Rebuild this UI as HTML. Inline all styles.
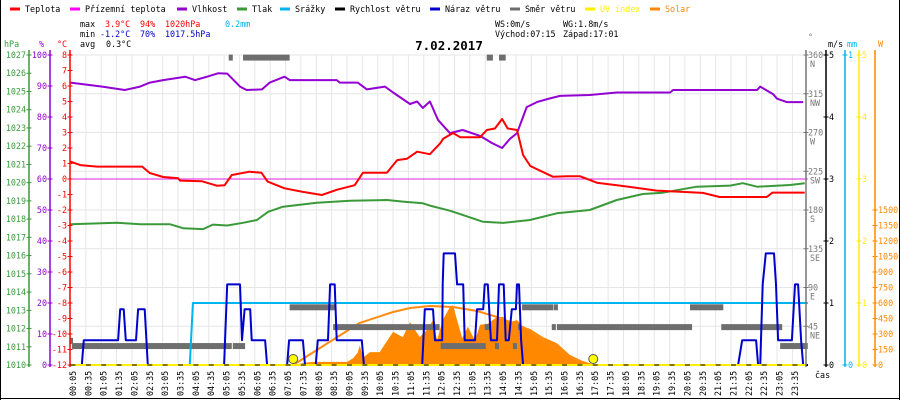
<!DOCTYPE html>
<html><head><meta charset="utf-8"><style>
html,body{margin:0;padding:0;background:#fff;}
svg{display:block;font-family:"DejaVu Sans Mono","Liberation Mono",monospace;font-size:8.4px;}
</style></head><body>
<svg id="chart" width="900" height="400" viewBox="0 0 900 400">
<rect x="0" y="0" width="900" height="400" fill="#fff"/>
<g id="grid"></g>
<g id="series"></g>
<g id="axes"></g>
<g id="legend"></g>
<g>
<text x="80" y="27" fill="#000">max</text><text x="105" y="27" fill="#f00">3.9°C</text><text x="140" y="27" fill="#f00">94%</text><text x="165" y="27" fill="#f00">1020hPa</text><text x="225" y="27" fill="#00b0f0">0.2mm</text>
<text x="80" y="37" fill="#000">min</text><text x="100" y="37" fill="#00c">-1.2°C</text><text x="140" y="37" fill="#00c">70%</text><text x="165" y="37" fill="#00c">1017.5hPa</text>
<text x="80" y="47" fill="#000">avg</text><text x="106" y="47" fill="#000">0.3°C</text>
<text x="495" y="27" fill="#000">WS:0m/s</text><text x="563" y="27" fill="#000">WG:1.8m/s</text>
<text x="495" y="37" fill="#000">Východ:07:15</text><text x="563" y="37" fill="#000">Západ:17:01</text>
<text x="449" y="50" text-anchor="middle" font-weight="bold" font-size="12.5" fill="#000">7.02.2017</text>
</g>
<line x1="0.5" y1="0" x2="0.5" y2="400" stroke="#000"/>
<line x1="899.5" y1="0" x2="899.5" y2="400" stroke="#000"/>
<line x1="0" y1="398.5" x2="900" y2="398.5" stroke="#000"/>
</svg>
<script>
// ---- data ----
const tempTimes=[0,19,52,140,155,181,210,214,257,286,301,315,350,373,385,418,454,491,520,555,571,618,638,657,677,702,722,728,747,761,800,813,829,843,854,872,884,898,942,970,995,1028,1079,1145,1235,1268,1360,1371,1434];
const tempValues=[1.12,0.9,0.8,0.8,0.38,0.13,0.06,-0.1,-0.15,-0.43,-0.4,0.26,0.47,0.4,-0.17,-0.6,-0.83,-1.03,-0.7,-0.4,0.4,0.4,1.22,1.3,1.76,1.6,2.3,2.6,2.97,2.7,2.7,3.16,3.26,3.87,3.26,3.16,1.55,0.84,0.15,0.18,0.18,-0.24,-0.45,-0.75,-0.9,-1.16,-1.16,-0.88,-0.88];
const feelTimes=[0,1440];
const feelValues=[0,0];
const humTimes=[0,62,106,136,155,181,224,243,267,288,306,331,344,374,389,418,428,520,526,561,579,614,630,663,677,688,702,718,741,766,800,823,843,858,872,891,911,932,956,1014,1067,1171,1177,1341,1347,1372,1380,1399,1431];
const humValues=[91.1,89.8,88.7,89.8,91.1,91.9,93,91.9,93,94.1,94,89.8,88.7,88.9,91.1,93,91.9,91.9,91.1,91.1,88.9,89.8,87.9,84.2,85,82.9,85,79,74.8,75.8,73.9,71.6,70,72.9,74.8,83.2,84.8,85.8,86.8,87.1,87.9,87.9,88.7,88.7,89.8,87.4,85.9,84.8,84.8];
const presTimes=[0,91,136,194,220,259,278,306,337,364,386,415,481,546,618,649,688,702,741,766,805,845,897,950,1014,1067,1118,1157,1223,1288,1313,1341,1405,1434];
const presValues=[1017.72,1017.8,1017.72,1017.72,1017.5,1017.45,1017.7,1017.65,1017.8,1017.95,1018.4,1018.68,1018.9,1019.01,1019.05,1018.96,1018.87,1018.74,1018.46,1018.23,1017.86,1017.79,1017.95,1018.32,1018.5,1019.05,1019.38,1019.45,1019.78,1019.84,1019.97,1019.78,1019.87,1019.97];
const rainTimes=[0,233,239,1440];
const rainValues=[0,0,0.2,0.2];
const windTimes=[0,1440];
const windValues=[0,0];
const gustTimes=[0,22,26,93,97,104,108,128,132,145,151,300,306,331,335,340,351,354,380,384,423,427,454,458,479,483,503,507,516,520,569,573,687,692,708,712,726,727,729,751,755,767,770,790,794,806,809,815,821,833,837,846,850,856,862,870,872,876,880,884,1304,1312,1339,1343,1347,1352,1358,1374,1378,1382,1409,1415,1421,1427,1431,1440];
const gustValues=[0,0,0.4,0.4,0.9,0.9,0.4,0.4,0.9,0.9,0,0,1.3,1.3,0.4,0.9,0.9,0.4,0.4,0,0,0.4,0.4,0,0,0.4,0.4,1.3,1.3,0.4,0.4,0,0,0.9,0.9,0.4,0.4,1.3,1.8,1.8,1.3,1.3,0.4,0.4,0.9,0.9,1.3,1.3,0.4,0.4,1.3,1.3,0.4,0.4,0.9,0.9,1.3,1.3,0.4,0,0,0.4,0.4,0,0,1.3,1.8,1.8,1.3,0.4,0.4,1.3,1.3,0.4,0,0];
const dirStart=[0,3,317,309,337,428,513,723,829,864,809,874,813,837,882,944,940,950,1210,1271,1386];
const dirEnd=[5,315,341,317,428,516,721,811,837,872,819,878,825,850,943,952,948,1214,1275,1390,1440];
const dirDeg=[28,22,22,357,357,67,44,22,22,22,44,44,357,357,67,67,44,44,67,44,22];
const solarTimes=[435,462,481,540,552,561,565,571,585,604,630,649,663,682,696,708,716,727,741,747,755,765,776,790,800,815,833,845,858,872,884,897,923,950,975,995,1009];
const solarValues=[0,25,30,30,65,120,190,70,125,125,320,270,415,270,340,435,240,435,560,580,435,260,370,240,390,400,465,465,415,435,370,350,270,210,100,50,0];
const clearTimes=[435,512,565,630,663,702,747,794,833,884,942,989,1018];
const clearValues=[0,242,407,513,552,571,561,523,465,368,174,48,0];
const sunTimes=[435,1021];
const xLabels=[];for(let h=0;h<24;h++){const hh=(h<10?'0':'')+h;xLabels.push(hh+':05');xLabels.push(hh+':35');}
const tempTicks=[8,7,6,5,4,3,2,1,0,-1,-2,-3,-4,-5,-6,-7,-8,-9,-10,-11,-12];
const humTicks=[100,90,80,70,60,50,40,30,20,10,0];
const presTicks=[1027,1026,1025,1024,1023,1022,1021,1020,1019,1018,1017,1016,1015,1014,1013,1012,1011,1010];
const degTicks=[360,315,270,225,180,135,90,45];
const degNames=['N','NW','W','SW','S','SE','E','NE'];
const windTicks=[5,4,3,2,1,0];
const uvTicks=[5,4,3,2,1,0];
const solarTicks=[1500,1350,1200,1050,900,750,600,450,300,150,0];

// ---- scales ----
const X=m=>70.5+m*0.512;
const yT=t=>179-15.5*t;
const yH=h=>365-3.1*h;
const yP=p=>365-(p-1010)*18.235;
const yW=v=>365-62*v;
const yR=mm=>365-310*mm;
const yD=d=>365-d*0.86111;
const yS=w=>365-w*0.10333;

const NS='http://www.w3.org/2000/svg';
function mk(tag,attrs,parent){const e=document.createElementNS(NS,tag);for(const k in attrs)e.setAttribute(k,attrs[k]);parent.appendChild(e);return e;}
const grid=document.getElementById('grid'),series=document.getElementById('series'),axes=document.getElementById('axes'),legend=document.getElementById('legend');

// grid
for(let k=1;k<48;k++){const x=70.5+15.36*k;const l=mk('line',{x1:x,y1:55,x2:x,y2:365,stroke:'#e6e6e6','stroke-width':1},grid);

}
for(const d of degTicks){const y=yD(d);const l=mk('line',{x1:70,y1:y,x2:806,y2:y,stroke:'#e6e6e6','stroke-width':1},grid);

}

function poly(times,vals,ys,color,w,name){const pts=times.map((t,i)=>X(t).toFixed(1)+','+ys(vals[i]).toFixed(1)).join(' ');
const p=mk('polyline',{points:pts,fill:'none',stroke:color,'stroke-width':w,'stroke-linejoin':'round'},series);

return p;}

// solar area
{const pts=solarTimes.map((t,i)=>X(t).toFixed(1)+','+yS(solarValues[i]).toFixed(1));
pts.push(X(solarTimes[solarTimes.length-1]).toFixed(1)+',365');pts.unshift(X(solarTimes[0]).toFixed(1)+',365');
const a=mk('polygon',{points:pts.join(' '),fill:'#ff8800',stroke:'none'},series);

}
poly(clearTimes,clearValues,yS,'#ff8c10',2,'solar-theoretical-line');
// wind direction
dirDeg.forEach((d,i)=>{const r=mk('rect',{x:X(dirStart[i]),y:yD(d)-3,width:Math.max(2,X(dirEnd[i])-X(dirStart[i])),height:6,fill:'#6e6e6e'},series);

});
poly(rainTimes,rainValues,yR,'#00b4f0',2,'rain-line');
poly(presTimes,presValues,yP,'#3a9a3a',2,'pressure-line');
poly(humTimes,humValues,yH,'#9400d3',2,'humidity-line');
poly(feelTimes,feelValues,yT,'#e020e0',1,'apparent-temperature-line');
poly(tempTimes,tempValues,yT,'#ff0000',2,'temperature-line');
poly(gustTimes,gustValues,yW,'#0000cc',2,'wind-gust-line');
poly(windTimes,windValues,yW,'#000',2,'wind-speed-line');
{const l=mk('line',{x1:70,y1:365,x2:806,y2:365,stroke:'#ffee00','stroke-width':2},series);

}
sunTimes.forEach(t=>{const c=mk('circle',{cx:X(t),cy:359,r:4.5,fill:'#ffff00',stroke:'#555','stroke-width':1},series);

});

// axes
function vaxis(x,color,name){const l=mk('line',{x1:x,y1:50,x2:x,y2:367,stroke:color,'stroke-width':1.5},axes);

}
function label(x,y,txt,color,anchor,name){const t=mk('text',{x:x,y:y,fill:color,'text-anchor':anchor||'start'},axes);t.textContent=txt;

return t;}
function tick(x,y,color){mk('line',{x1:x-2.5,y1:y,x2:x+2.5,y2:y,stroke:color,'stroke-width':1},axes);}
vaxis(29,'#3a9a3a','pressure-axis');vaxis(50,'#9400d3','humidity-axis');vaxis(70,'#ff0000','temperature-axis');
presTicks.forEach(p=>{tick(29,yP(p),'#3a9a3a');label(26,yP(p)+3,String(p),'#3a9a3a','end','pressure-tick-label');});
humTicks.forEach(h=>{tick(50,yH(h),'#9400d3');label(47,yH(h)+3,String(h),'#9400d3','end','humidity-tick-label');});
tempTicks.forEach(t=>{tick(70,yT(t),'#ff0000');label(67,yT(t)+3,String(t),'#ff0000','end','temperature-tick-label');});
label(4,47,'hPa','#3a9a3a','start','pressure-axis-title');label(39,47,'%','#9400d3','start','humidity-axis-title');label(57,47,'°C','#ff0000','start','temperature-axis-title');

vaxis(806,'#777','wind-direction-axis');vaxis(826,'#000','wind-speed-axis');vaxis(845,'#00b4f0','rain-axis');vaxis(859,'#ffee00','uv-axis');vaxis(875,'#ff8800','solar-axis');
degTicks.forEach((d,i)=>{tick(806,yD(d),'#777');label(808,yD(d)+3,String(d),'#777','start','direction-tick-label');label(810,yD(d)+12,degNames[i],'#777','start','direction-name-label');});
windTicks.forEach(v=>{tick(826,yW(v),'#000');label(829,yW(v)+3,String(v),'#000','start','wind-tick-label');});
[1,0].forEach(v=>{tick(845,yR(v),'#00b4f0');label(848,yR(v)+3,String(v),'#00b4f0','start','rain-tick-label');});
uvTicks.forEach(v=>{tick(859,yW(v),'#ffee00');label(862,yW(v)+3,String(v),'#ffee00','start','uv-tick-label');});
solarTicks.forEach(v=>{tick(875,yS(v),'#ff8800');label(878,yS(v)+3,String(v),'#ff8800','start','solar-tick-label');});
label(808,40,'°','#777','start','direction-axis-title');label(828,47,'m/s','#000','start','wind-axis-title');label(847,47,'mm','#00b4f0','start','rain-axis-title');label(878,47,'W','#ff8800','start','solar-axis-title');
label(815,378,'čas','#000','start','x-axis-title');
// x labels
xLabels.forEach((s,i)=>{const x=73+15.36*i;tick(x,365,'#000');const t=mk('text',{x:0,y:0,fill:'#000',transform:'translate('+(x+3)+',396) rotate(-90)'},axes);t.textContent=s;

});

// legend
const legNames=['Teplota','Přízemní teplota','Vlhkost','Tlak','Srážky','Rychlost větru','Náraz větru','Směr větru','UV index','Solar'];
const legColors=['#ff0000','#ff00ff','#9400d3','#3a9a3a','#00b4f0','#000','#0000cc','#6e6e6e','#ffee00','#ff8800'];
const legX=[10,70,177,237,280,335,430,510,585,650];
legNames.forEach((n,i)=>{const g=mk('g',{},legend);


mk('line',{x1:legX[i],y1:9,x2:legX[i]+10,y2:9,stroke:legColors[i],'stroke-width':3},g);
const t=mk('text',{x:legX[i]+15,y:12,fill:(i>=8?legColors[i]:'#000')},g);t.textContent=n;});
</script>
</body></html>
